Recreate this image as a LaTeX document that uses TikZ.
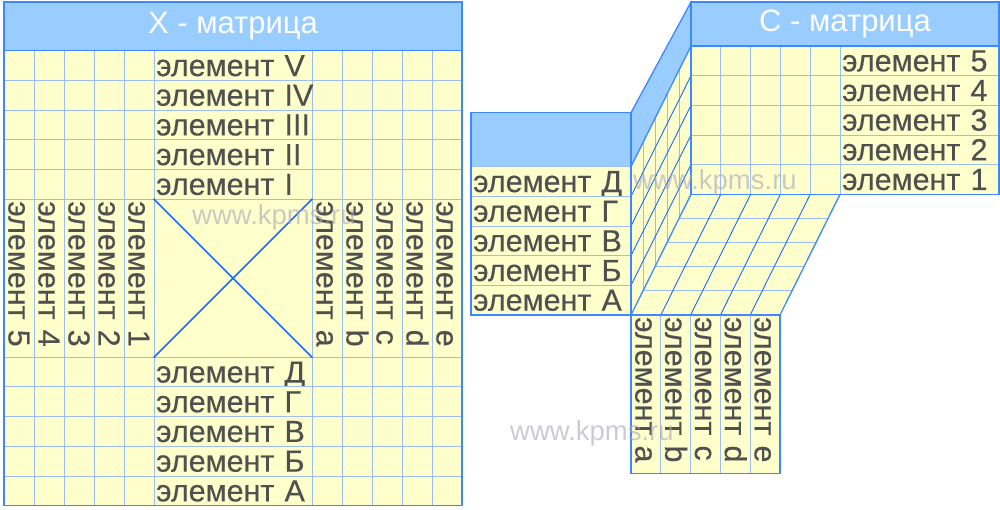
\documentclass[tikz,border=0pt]{standalone}
\usepackage{fontspec}
\setmainfont{Liberation Sans}
\newfontfamily\labfont[FakeBold=0.3]{Liberation Sans}
\definecolor{cellfill}{HTML}{FFFFCC}
\definecolor{headfill}{HTML}{99CCFF}
\definecolor{gridline}{HTML}{9CBCF2}
\definecolor{edgeblue}{HTML}{3C88FF}
\definecolor{slantblue}{HTML}{1A6CFF}
\definecolor{labgray}{HTML}{505050}
\definecolor{wmgray}{HTML}{A8A8BC}
\tikzset{
  gridln/.style={draw=gridline, line width=0.9pt},
  slantln/.style={draw=slantblue, line width=0.9pt},
  edgeln/.style={draw=edgeblue, line width=1.3pt},
  lab/.style={draw=gridline, line width=0.9pt, fill=cellfill, text=labgray,
    font=\labfont\fontsize{30.5pt}{30.5pt}\selectfont, inner xsep=2pt, inner ysep=0pt,
    text width=154pt, align=left, minimum height=29.7pt, text height=22pt, text depth=1pt},
  vlab/.style={lab, rotate=-90, minimum height=30pt},
  head/.style={draw=edgeblue, line width=1.3pt, fill=headfill, text=white,
    font=\fontsize{31pt}{31pt}\selectfont, inner sep=0pt},
  wmark/.style={text=wmgray, text opacity=0.6, font=\fontsize{27.5pt}{27.5pt}\selectfont, inner sep=0pt, anchor=base west},
  crossln/.style={draw=slantblue, line width=1.6pt}
}
\begin{document}
\begin{tikzpicture}[x=1pt, y=-1pt]
\useasboundingbox (0,0) rectangle (1000,510);
% ================= X - matrix =================
\fill[cellfill] (4,50.7) rectangle (462,505.7);
\foreach \i in {0,...,5} {
  \draw[gridln] ({4+30*\i},50.7) -- ({4+30*\i},505.7);
  \draw[gridln] ({312+30*\i},50.7) -- ({312+30*\i},505.7);
}
\foreach \j in {0,...,5} {
  \draw[gridln] (4,{50.7+29.7*\j}) -- (462,{50.7+29.7*\j});
  \draw[gridln] (4,{357.2+29.7*\j}) -- (462,{357.2+29.7*\j});
}
\node[head, minimum width=458pt, minimum height=48.7pt] (xh) at (233,26.35) {X - матрица};
\foreach \t [count=\j from 0] in {V,IV,III,II,I}
  \node[lab] (xt\j) at (233,{65.55+29.7*\j}) {\mbox{элемент \t}};
\foreach \t [count=\j from 0] in {Д,Г,В,Б,А}
  \node[lab] (xb\j) at (233,{372.05+29.7*\j}) {\mbox{элемент \t}};
\foreach \t [count=\i from 0] in {5,4,3,2,1}
  \node[vlab] (xl\i) at ({19+30*\i},278.2) {\mbox{элемент \t}};
\foreach \t [count=\i from 0] in {a,b,c,d,e}
  \node[vlab] (xr\i) at ({327+30*\i},278.2) {\mbox{элемент \t}};
\node[draw=gridline, line width=0.9pt, minimum width=158pt, minimum height=158pt, inner sep=0pt] (xc) at (233,278.2) {};
\draw[crossln] (xc.north west) -- (xc.south east);
\draw[crossln] (xc.south west) -- (xc.north east);
\draw[edgeln] (4,2) rectangle (462,505.7);
\draw[edgeln] (4,50.7) -- (462,50.7);
% ================= C - matrix =================
% floor
\fill[cellfill] (631,315) -- (691,194.3) -- (840,194.3) -- (780,315) -- cycle;
\foreach \j in {1,...,4}
  \draw[gridln] ({631+12*\j},{315-24.14*\j}) -- ({780+12*\j},{315-24.14*\j});
\foreach \k in {1,...,4}
  \draw[slantln] ({631+29.8*\k},315) -- ({691+29.8*\k},194.3);
% side wall
\fill[cellfill] (631,166.7) -- (691,46) -- (691,194.3) -- (631,315) -- cycle;
\foreach \k in {1,...,4}
  \draw[gridln] ({631+12*\k},{166.7-24.14*\k}) -- ({631+12*\k},{315-24.14*\k});
\foreach \j in {1,...,4}
  \draw[slantln] (631,{166.7+29.66*\j}) -- (691,{46+29.66*\j});
\fill[headfill] (631,112.7) -- (691,2) -- (691,46) -- (631,166.7) -- cycle;
% front panel body
\fill[cellfill] (691,46) rectangle (840,194.3);
\foreach \k in {1,...,4}
  \draw[gridln] ({691+29.8*\k},46) -- ({691+29.8*\k},194.3);
\foreach \j in {1,...,4}
  \draw[gridln] (691,{46+29.66*\j}) -- (840,{46+29.66*\j});
\node[head, minimum width=308pt, minimum height=44pt] (ch) at (845,24) {С - матрица};
\foreach \t [count=\j from 0] in {5,4,3,2,1}
  \node[lab, text width=155pt, minimum height=29.66pt] (cf\j) at (919.5,{60.83+29.66*\j}) {\mbox{элемент \t}};
% left panel
\node[draw=edgeblue, line width=1.3pt, fill=headfill, minimum width=160pt, minimum height=54pt, inner sep=0pt] (clh) at (551,139.7) {};
\foreach \t [count=\j from 0] in {Д,Г,В,Б,А}
  \node[lab, text width=156pt, minimum height=29.66pt] (cl\j) at (551,{181.53+29.66*\j}) {\mbox{элемент \t}};
% bottom panel
\foreach \t [count=\i from 0] in {a,b,c,d,e}
  \node[vlab, text width=154.3pt, minimum height=29.8pt] (cb\i) at ({645.9+29.8*\i},394.15) {\mbox{элемент \t}};
% outlines
\draw[edgeln] (471,112.7) rectangle (631,315);
\draw[edgeln] (631,112.7) -- (691,2);
\draw[edgeln] (631,166.7) -- (691,46);
\draw[edgeln] (631,315) -- (691,194.3);
\draw[edgeln] (780,315) -- (840,194.3);
\draw[edgeln] (691,2) rectangle (999,194.3);
\draw[edgeln] (691,46) -- (999,46);
\draw[edgeln] (691,194.3) -- (840,194.3);
\draw[edgeln] (631,315) rectangle (780,473.3);
% watermarks
\node[wmark] (wm1) at (192,225) {www.kpms.ru};
\node[wmark] (wm2) at (633,190) {www.kpms.ru};
\node[wmark] (wm3) at (510,440) {www.kpms.ru};
\end{tikzpicture}
\end{document}
